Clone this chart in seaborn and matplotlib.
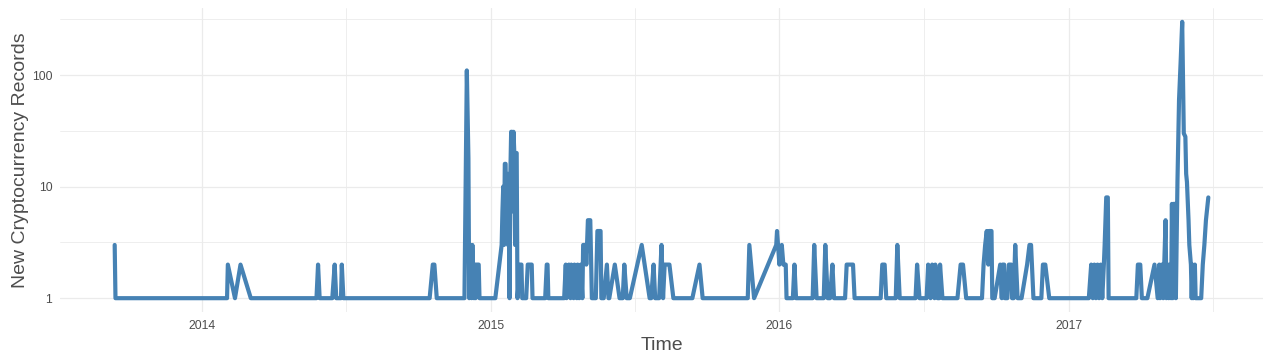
import numpy as np
import pandas as pd
import matplotlib
matplotlib.use("Agg")
import matplotlib.pyplot as plt
import matplotlib.dates as mdates
from matplotlib.ticker import FixedLocator, FuncFormatter
import seaborn as sns

# dates with new records and how many
record_dates = [
    "2013-09-13", "2013-09-14", "2014-02-02", "2014-02-03", "2014-02-12", "2014-02-19", "2014-03-04",
    "2014-05-26", "2014-05-28", "2014-05-30", "2014-06-15", "2014-06-18", "2014-06-20", "2014-06-26",
    "2014-06-27", "2014-06-29", "2014-10-16", "2014-10-20", "2014-10-22", "2014-10-25", "2014-11-29",
    "2014-12-02", "2014-12-04", "2014-12-05", "2014-12-07", "2014-12-08", "2014-12-09", "2014-12-11",
    "2014-12-12", "2014-12-13", "2014-12-14", "2014-12-17", "2014-12-18",
    "2015-01-07", "2015-01-12", "2015-01-15", "2015-01-16", "2015-01-17", "2015-01-18", "2015-01-19",
    "2015-01-20", "2015-01-21", "2015-01-22", "2015-01-23", "2015-01-24", "2015-01-25", "2015-01-26",
    "2015-01-27", "2015-01-28", "2015-01-29", "2015-01-30", "2015-01-31", "2015-02-01", "2015-02-02",
    "2015-02-03", "2015-02-04", "2015-02-07", "2015-02-09", "2015-02-10", "2015-02-15", "2015-02-17",
    "2015-02-22", "2015-02-23", "2015-03-11", "2015-03-13", "2015-03-14", "2015-03-15",
    "2015-04-04", "2015-04-06", "2015-04-07", "2015-04-10", "2015-04-12", "2015-04-13", "2015-04-16",
    "2015-04-17", "2015-04-20", "2015-04-21", "2015-04-23", "2015-04-25", "2015-04-27", "2015-04-28",
    "2015-05-01", "2015-05-02", "2015-05-04", "2015-05-07", "2015-05-09", "2015-05-14", "2015-05-16",
    "2015-05-20", "2015-05-21", "2015-05-24", "2015-05-28", "2015-05-30", "2015-05-31", "2015-06-07",
    "2015-06-13", "2015-06-17", "2015-06-19", "2015-06-22", "2015-06-26", "2015-07-11", "2015-07-21",
    "2015-07-23", "2015-07-26", "2015-07-28", "2015-08-02", "2015-08-05", "2015-08-07", "2015-08-09",
    "2015-08-11", "2015-08-15", "2015-08-20", "2015-09-13", "2015-09-22", "2015-09-26",
    "2015-11-22", "2015-11-24", "2015-11-30", "2015-12-28", "2015-12-29",
    "2016-01-01", "2016-01-04", "2016-01-06", "2016-01-09", "2016-01-10", "2016-01-18", "2016-01-20",
    "2016-01-22", "2016-02-12", "2016-02-14", "2016-02-17", "2016-02-26", "2016-02-28", "2016-03-02",
    "2016-03-05", "2016-03-08", "2016-03-10", "2016-03-24", "2016-03-26", "2016-04-03", "2016-04-05",
    "2016-05-08", "2016-05-10", "2016-05-13", "2016-05-15", "2016-05-27", "2016-05-29", "2016-06-01",
    "2016-06-21", "2016-06-23", "2016-06-26", "2016-07-05", "2016-07-07", "2016-07-10", "2016-07-12",
    "2016-07-15", "2016-07-16", "2016-07-19", "2016-07-21", "2016-07-22", "2016-07-25", "2016-08-13",
    "2016-08-17", "2016-08-20", "2016-08-24", "2016-09-13", "2016-09-15", "2016-09-17", "2016-09-19",
    "2016-09-21", "2016-09-22", "2016-09-25", "2016-09-26", "2016-09-29", "2016-10-06", "2016-10-08",
    "2016-10-09", "2016-10-11", "2016-10-12", "2016-10-15", "2016-10-17", "2016-10-20", "2016-10-21",
    "2016-10-23", "2016-10-25", "2016-10-28", "2016-11-02", "2016-11-09", "2016-11-12", "2016-11-14",
    "2016-11-17", "2016-11-27", "2016-11-29", "2016-12-02", "2016-12-07",
    "2017-01-26", "2017-01-29", "2017-01-31", "2017-02-02", "2017-02-04", "2017-02-06", "2017-02-08",
    "2017-02-10", "2017-02-12", "2017-02-14", "2017-02-15", "2017-02-17", "2017-02-19", "2017-02-20",
    "2017-03-27", "2017-03-29", "2017-04-01", "2017-04-03", "2017-04-10", "2017-04-19", "2017-04-23",
    "2017-04-25", "2017-04-26", "2017-04-28", "2017-04-30", "2017-05-03", "2017-05-04", "2017-05-06",
    "2017-05-07", "2017-05-09", "2017-05-10", "2017-05-11", "2017-05-12", "2017-05-13", "2017-05-15",
    "2017-05-16", "2017-05-18", "2017-05-19", "2017-05-20", "2017-05-22", "2017-05-24", "2017-05-26",
    "2017-05-28", "2017-05-29", "2017-05-30", "2017-06-01", "2017-06-02", "2017-06-04", "2017-06-05",
    "2017-06-06", "2017-06-07", "2017-06-09", "2017-06-10", "2017-06-17", "2017-06-19", "2017-06-21",
    "2017-06-23", "2017-06-26",
]
record_counts = [
    3, 1, 1, 2, 1, 2, 1,
    1, 2, 1, 1, 2, 1, 1,
    2, 1, 1, 2, 2, 1, 1,
    110, 18, 1, 3, 1, 3, 1,
    2, 1, 2, 2, 1,
    1, 2, 3, 6, 10, 3, 16,
    16, 4, 13, 3, 13, 1, 13,
    31, 31, 6, 31, 20, 3, 20,
    20, 1, 2, 2, 1, 1, 2,
    2, 1, 1, 2, 2, 1,
    1, 2, 1, 2, 1, 2, 1,
    2, 1, 2, 1, 2, 1, 3,
    3, 2, 5, 5, 1, 1, 4,
    4, 1, 1, 2, 1, 1, 2,
    1, 1, 2, 1, 1, 3, 1,
    1, 2, 1, 1, 3, 1, 2,
    2, 2, 1, 1, 2, 1,
    1, 3, 1, 3, 4,
    2, 3, 2, 2, 1, 1, 2,
    1, 1, 3, 1, 1, 3, 1,
    1, 2, 1, 1, 2, 2, 1,
    1, 2, 2, 1, 1, 3, 1,
    1, 2, 1, 1, 2, 1, 2,
    1, 2, 1, 1, 2, 1, 1,
    2, 2, 1, 1, 2, 3, 4,
    2, 4, 4, 1, 1, 2, 1,
    2, 2, 1, 1, 2, 2, 1,
    1, 3, 1, 1, 2, 3, 3,
    1, 1, 2, 2, 1,
    1, 2, 1, 2, 1, 2, 1,
    2, 1, 2, 3, 8, 8, 1,
    1, 2, 2, 1, 1, 2, 1,
    2, 1, 2, 1, 5, 1, 2,
    1, 2, 1, 7, 1, 7, 7,
    1, 11, 26, 60, 130, 300, 30,
    28, 13, 11, 5, 3, 2, 1,
    2, 1, 2, 1, 1, 2, 3,
    5, 8,
]

y_breaks = [1, 10, 100]
x_breaks = ["2014-01-01", "2015-01-01", "2016-01-01", "2017-01-01"]

df = pd.DataFrame({"Time": pd.to_datetime(record_dates), "Records": record_counts})

sns.set_theme(style="white")
plt.rcParams["font.family"] = ["Liberation Sans", "DejaVu Sans"]

fig = plt.figure(figsize=(12.71, 3.59), dpi=100)
ax = fig.add_axes([60 / 1271, 1 - 312 / 359, 1203 / 1271, 304 / 359])

sns.lineplot(data=df, x="Time", y="Records", color="steelblue", linewidth=3.0, ax=ax)

ax.set_yscale("log")
# ggplot-like 5% expansion on both axes
lmin, lmax = np.log10(df.Records.min()), np.log10(df.Records.max())
pad = 0.05 * (lmax - lmin)
ax.set_ylim(10 ** (lmin - pad), 10 ** (lmax + pad))
t0, t1 = df.Time.min(), df.Time.max()
tpad = (t1 - t0) * 0.05
ax.set_xlim(t0 - tpad, t1 + tpad)

ax.yaxis.set_major_locator(FixedLocator(y_breaks))
ax.yaxis.set_minor_locator(FixedLocator([10 ** (np.log10(b) + 0.5) for b in y_breaks]))
ax.yaxis.set_major_formatter(FuncFormatter(lambda v, p: "%g" % v))
ax.yaxis.set_minor_formatter(FuncFormatter(lambda v, p: ""))
ax.xaxis.set_major_locator(FixedLocator(mdates.date2num(pd.to_datetime(x_breaks))))
ax.xaxis.set_minor_locator(mdates.MonthLocator(bymonth=7, bymonthday=2))
ax.xaxis.set_major_formatter(mdates.DateFormatter("%Y"))

ax.grid(which="major", color="#EBEBEB", linewidth=0.9)
ax.grid(which="minor", color="#EBEBEB", linewidth=0.6)
ax.set_axisbelow(True)
for s in ax.spines.values():
    s.set_visible(False)
ax.tick_params(which="both", length=0, labelsize=8.8, labelcolor="#4D4D4D", pad=5.5)

ax.set_xlabel("Time", fontsize=14, color="#4D4D4D", labelpad=4)
ax.set_ylabel("New Cryptocurrency Records", fontsize=14, color="#4D4D4D", labelpad=2)

fig.savefig("out.png", dpi=100, facecolor="white")
